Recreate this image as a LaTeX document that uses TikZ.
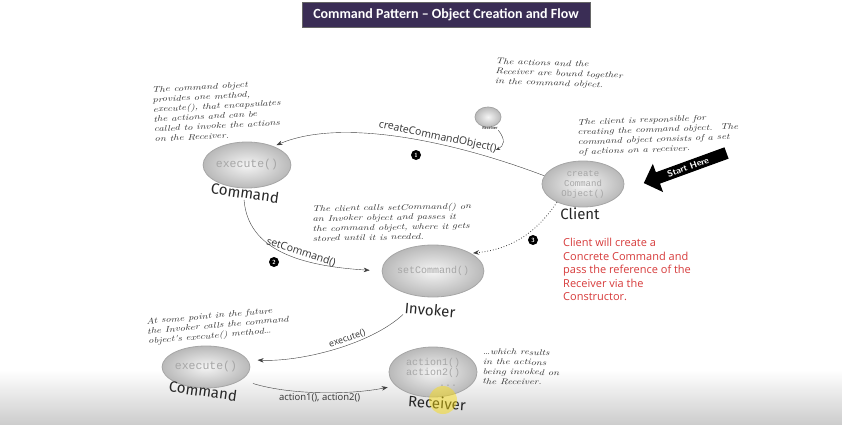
\documentclass[tikz,border=0pt]{standalone}
\usepackage{fontspec}
\usepackage{xcolor}
\usepackage{tikz}
\usetikzlibrary{positioning,arrows.meta,shapes.geometric,shapes.arrows}

\newfontfamily\hdfont{Carlito}
\newfontfamily\callfont{Open Sans}
\newfontfamily\ballfont{Liberation Mono}
\newfontfamily\rolefont{Fira Sans}
\newfontfamily\notefont{lmroman10-italic.otf}[FakeStretch=1.28]

\definecolor{titlebg}{RGB}{58,45,85}
\definecolor{notered}{RGB}{214,58,58}

\begin{document}
\begin{tikzpicture}[
    x=1pt, y=-1pt,
    ball/.style={ellipse, draw=gray!70, line width=0.8pt, inner color=gray!8, outer color=gray!55,
        inner sep=0pt, align=center, text=gray!70, font=\ballfont\fontsize{10}{10.5}\selectfont},
    role/.style={font=\rolefont\fontsize{15}{16}\selectfont, text=black!85, inner sep=1pt},
    note/.style={align=left, text=black!80, font=\notefont\fontsize{8.3}{9.9}\selectfont},
    call/.style={font=\callfont\fontsize{10}{11}\selectfont, text=black!80, inner sep=1.5pt},
    flow/.style={-{Stealth[length=6pt,width=4.5pt]}, black!75},
    badge/.style={circle, fill=black, text=white, inner sep=0pt, minimum size=10pt,
        font=\sffamily\bfseries\fontsize{6}{6}\selectfont}
]
    \useasboundingbox (0,0) rectangle (842,425);
    \shade[top color=white, bottom color=gray!40] (0,370) rectangle (842,425);

    % title
    \node[fill=titlebg, draw=black!60, text=white, minimum width=288pt, minimum height=25pt,
        font=\hdfont\bfseries\fontsize{14}{15}\selectfont] (title) at (446,15)
        {Command Pattern – Object Creation and Flow};

    % objects
    \node[ball, minimum width=74pt, minimum height=46pt, font=\ballfont\fontsize{11.5}{12}\selectfont] (cmdtop) at (247,165) {execute()};
    \node[role, rotate=-8] (cmdtoplbl) at (245,193) {Command};
    \node[ball, minimum width=26pt, minimum height=20pt] (recvsmall) at (488,117) {};
    \node[font=\rolefont\fontsize{4}{4}\selectfont, inner sep=0.5pt] (recvsmalllbl) at (490,128) {Receiver};
    \node[ball, minimum width=82pt, minimum height=46pt, font=\ballfont\fontsize{9}{10}\selectfont] (client) at (583,184) {create\\Command\\Object()};
    \node[role] (clientlbl) at (580,214) {Client};
    \node[ball, minimum width=90pt, minimum height=52pt] (invoker) at (433,271) {setCommand()};
    \node[role, rotate=-5] (invokerlbl) at (430,310) {Invoker};
    \node[ball, minimum width=74pt, minimum height=42pt, font=\ballfont\fontsize{11.5}{12}\selectfont] (cmdbot) at (206,367) {execute()};
    \node[role, rotate=-8] (cmdbotlbl) at (203,391) {Command};
    \node[ball, minimum width=88pt, minimum height=50pt] (receiver) at (433,372) {action1()\\action2()\\\hspace*{3em}...};
    \node[role, rotate=-4] (receiverlbl) at (437,403) {Receiver};
    \fill[yellow!80!orange, opacity=0.45] (443,400) circle (14);

    % notes
    \node[note, rotate=3] (notecmd) at (217,111) {The command object\\provides one method,\\execute(), that encapsulates\\the actions and can be\\called to invoke the actions\\on the Receiver.};
    \node[note, rotate=-2] (notebound) at (559,74) {The actions and the\\Receiver are bound together\\in the command object.};
    \node[note, rotate=2] (noteclient) at (658,135) {The client is responsible for\\creating the command object.\ \ The\\command object consists of a set\\of actions on a receiver.};
    \node[note, rotate=1] (noteset) at (392,222) {The client calls setCommand() on\\an Invoker object and passes it\\the command object, where it gets\\stored until it is needed.};
    \node[note, rotate=5] (notefuture) at (218,326) {At some point in the future\\the Invoker calls the command\\object's execute() method\dots};
    \node[note, rotate=-1] (noteresult) at (521,367) {\dots which results\\in the actions\\being invoked on\\the Receiver.};
    \node[anchor=north west, inner sep=0pt, align=left, text=notered, font=\callfont\fontsize{11}{13.6}\selectfont] (notered) at (563,238)
        {Client will create a\\Concrete Command and\\pass the reference of the\\Receiver via the\\Constructor.};

    \node[single arrow, fill=black, text=white, rotate=20, shape border rotate=180, inner sep=2.5pt,
        single arrow head extend=9pt, minimum height=88pt, font=\sffamily\bfseries\fontsize{9}{10}\selectfont]
        (start) at (688,167) {Start Here};

    % badges
    \node[badge] (b1) at (416,155) {1};
    \node[badge] (b2) at (274,262) {2};
    \node[badge] (b3) at (533,240) {3};

    % flow
    \draw[flow, shorten >=3pt] (client.168) .. controls (450,140) and (340,118) .. (cmdtop.35)
        node[call, sloped, above, pos=0.37, font=\callfont\fontsize{10.5}{11}\selectfont] {createCommandObject()};
    \draw[flow, shorten >=12pt] (cmdtoplbl.south) .. controls (248,250) and (300,266) .. (invoker.west)
        node[call, sloped, above, pos=0.6, font=\callfont\fontsize{10.5}{11}\selectfont] {setCommand()};
    \draw[flow, dotted, thick, shorten >=2pt] (client.215) to[bend left=25] (invoker.25);
    \draw[flow, shorten >=10pt] (invokerlbl.south west) .. controls (370,345) and (300,362) .. (cmdbot.10)
        node[call, sloped, above, pos=0.4, font=\callfont\fontsize{9}{10}\selectfont] {execute()};
    \draw[flow, shorten <=12pt, shorten >=8pt] (cmdbot.-20) .. controls (290,395) and (350,395) .. (receiver.200)
        node[call, below, pos=0.5, font=\callfont\fontsize{9.5}{10}\selectfont] {action1(), action2()};
    \draw[-{Stealth[length=4pt,width=3.5pt]}, black!75] (recvsmalllbl.south east) .. controls (506,140) and (504,146) .. (496,150);
\end{tikzpicture}
\end{document}
